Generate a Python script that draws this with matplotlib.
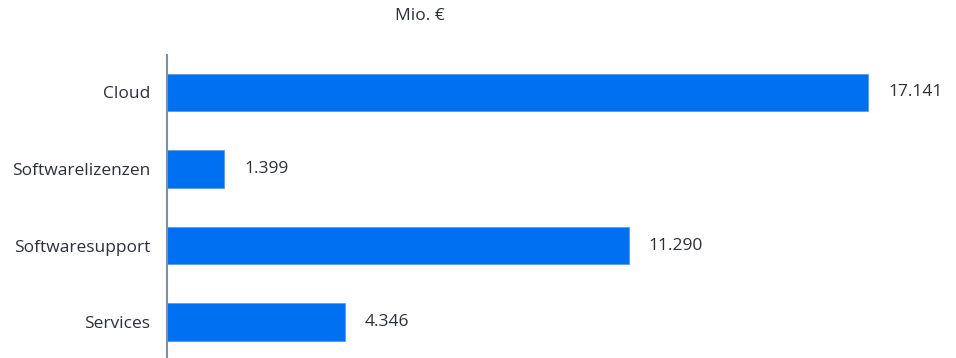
import matplotlib.pyplot as plt

plt.rcParams['font.family'] = ['Open Sans', 'DejaVu Sans']

categories = ["Cloud", "Softwarelizenzen", "Softwaresupport", "Services"]
values = [17141, 1399, 11290, 4346]
labels = ["17.141", "1.399", "11.290", "4.346"]

text_color = "#2b2f38"
bar_color = "#0070f2"

fig = plt.figure(figsize=(9.56, 3.58), dpi=100)
ax = fig.add_axes([167/956, 0, (950-167)/956, 1 - 55/358])

pos = range(len(categories))
ax.barh(pos, values, height=0.49, color=bar_color, edgecolor="#5a9be6", linewidth=0.6)

for p, v, lab in zip(pos, values, labels):
    ax.text(v + 17141 * 20 / 701, p, lab, va="center", ha="left",
            fontsize=12.5, color=text_color)

ax.set_xlim(0, 17141 * (950 - 167) / 701)
ax.set_ylim(3.47, -0.49)
ax.set_yticks(list(pos))
ax.set_yticklabels(categories, fontsize=12.5, color=text_color)
ax.tick_params(axis="y", length=0, pad=12)
ax.set_xticks([])

for s in ["top", "right", "bottom"]:
    ax.spines[s].set_visible(False)
ax.spines["left"].set_color("#7d8ea5")
ax.spines["left"].set_linewidth(1.5)

fig.text(420/956, 1 - 16/358, "Mio. €", ha="center", va="center",
         fontsize=12.5, color=text_color)

fig.savefig("out.png", dpi=100)
